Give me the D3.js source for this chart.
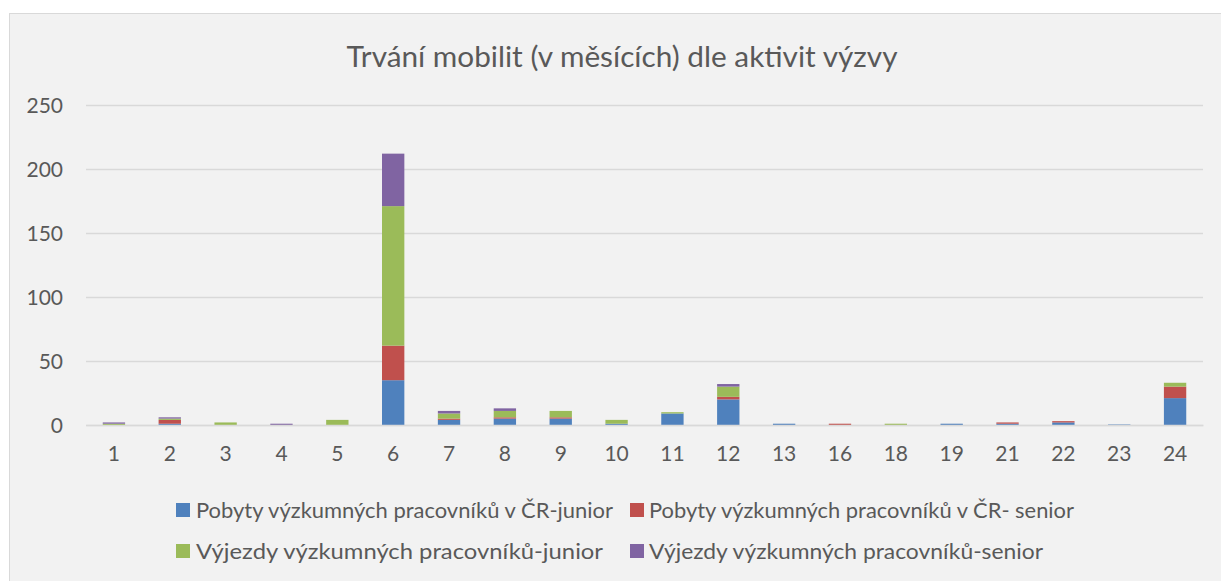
<!DOCTYPE html>
<html>
<head>
<meta charset="utf-8">
<script src="https://cdn.jsdelivr.net/npm/d3@7"></script>
<style>
  html, body { margin: 0; padding: 0; background: #ffffff; }
  svg { display: block; }
  text { font-family: Lato, "Open Sans", sans-serif; fill: #595959; }
</style>
</head>
<body>
<svg id="chart" width="1221" height="581"></svg>
<script>
const categories = ["1","2","3","4","5","6","7","8","9","10","11","12","13","16","18","19","21","22","23","24"];
const seriesNames = [
  "Pobyty výzkumných pracovníků v ČR-junior",
  "Pobyty výzkumných pracovníků v ČR- senior",
  "Výjezdy výzkumných pracovníků-junior",
  "Výjezdy výzkumných pracovníků-senior"
];
const pobytyJunior  = [0,1,0,0,0,35,4,5,5,1,9,20,1,0,0,1,1,2,0.4,21];
const pobytySenior  = [0,3,0,0,0,27,1,1,1,0,0,2,0,1,0,0,1,1,0,9];
const vyjezdyJunior = [1,1,2,0,4,109,4,5,5,3,1,8,0,0,1,0,0,0,0,3];
const vyjezdySenior = [1,1,0,1,0,41,2,2,0,0,0,2,0,0,0,0,0,0,0,0];
const yTicks = [0,50,100,150,200,250];
const colors = ["#4f81bd","#c0504d","#9bbb59","#8064a2"];
const title = "Trvání mobilit (v měsících) dle aktivit výzvy";

const svg = d3.select("#chart");

// frame
svg.append("rect").attr("x",9.5).attr("y",13.5).attr("width",1240).attr("height",600)
  .attr("fill","#f2f2f2").attr("stroke","#d9d9d9").attr("stroke-width",1);

const keys = ["pj","ps","vj","vs"];
const table = categories.map((c,i)=>({cat:c, pj:pobytyJunior[i], ps:pobytySenior[i], vj:vyjezdyJunior[i], vs:vyjezdySenior[i]}));
const stacked = d3.stack().keys(keys)(table);

const x = d3.scaleBand().domain(categories).range([86, 1203]).paddingInner(0.6).paddingOuter(0.3);
const y = d3.scaleLinear().domain([0,250]).range([425,105]);

// gridlines
svg.append("g").selectAll("line").data(yTicks).join("line")
  .attr("x1",86).attr("x2",1203)
  .attr("y1",d=>Math.round(y(d))+0.5).attr("y2",d=>Math.round(y(d))+0.5)
  .attr("stroke","#d9d9d9").attr("stroke-width",1.3);

// y axis labels
const yAxis = d3.axisLeft(y).tickValues(yTicks).tickSize(0).tickPadding(0);
const gy = svg.append("g").attr("transform","translate(63,0)").call(yAxis);
gy.select(".domain").remove();
gy.selectAll("text").attr("font-size",21).attr("dy","0.36em").style("fill","#595959")
  .style("font-family","Lato, 'Open Sans', sans-serif");

// bars
svg.append("g").selectAll("g").data(stacked).join("g")
  .attr("fill",(d,i)=>colors[i])
  .selectAll("rect").data(d=>d).join("rect")
  .attr("x",d=>x(d.data.cat))
  .attr("width",x.bandwidth())
  .attr("y",d=>y(d[1]))
  .attr("height",d=>Math.max(0,y(d[0])-y(d[1])));

// x axis
const xAxis = d3.axisBottom(x).tickSize(0).tickPadding(0);
const gx = svg.append("g").attr("transform","translate(0,425)").call(xAxis);
gx.select(".domain").attr("stroke","#d9d9d9").attr("stroke-width",1.5);
gx.selectAll("text").attr("font-size",21).attr("y",36).attr("dy",0).style("fill","#595959")
  .style("font-family","Lato, 'Open Sans', sans-serif");

// title
svg.append("text").attr("x",622).attr("y",67).attr("text-anchor","middle")
  .attr("font-size",28).attr("textLength",551).attr("lengthAdjust","spacingAndGlyphs")
  .text(title);

// legend
const legendPos = [
  {sx:176, tx:196, cy:510, w:417},
  {sx:630, tx:649, cy:510, w:425},
  {sx:176, tx:196, cy:551, w:407},
  {sx:630, tx:649, cy:551, w:394}
];
const lg = svg.append("g");
seriesNames.forEach((name,i)=>{
  const p = legendPos[i];
  lg.append("rect").attr("x",p.sx).attr("y",p.cy-7).attr("width",14).attr("height",14).attr("fill",colors[i]);
  lg.append("text").attr("x",p.tx).attr("y",p.cy+7.5).attr("font-size",21)
    .attr("textLength",p.w).attr("lengthAdjust","spacingAndGlyphs").text(name);
});
</script>
</body>
</html>
